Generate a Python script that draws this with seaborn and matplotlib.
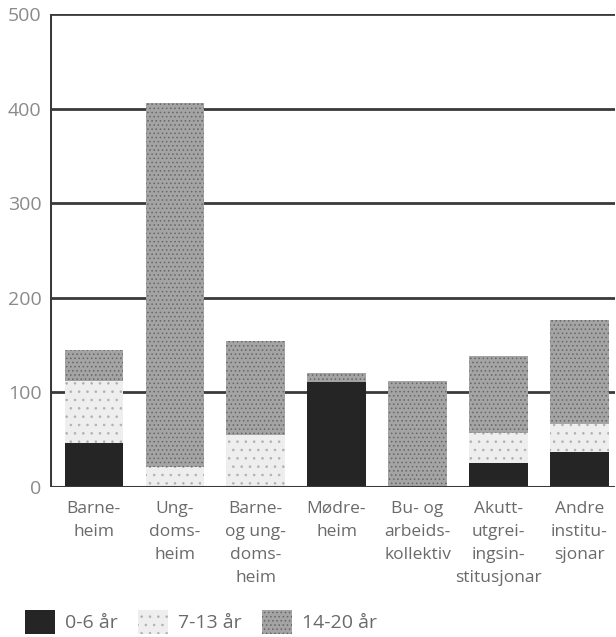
import numpy as np
import pandas as pd
import matplotlib
matplotlib.use("Agg")
import matplotlib.pyplot as plt
from matplotlib.patches import Patch
import seaborn as sns

sns.set_theme(style="white")
plt.rcParams['font.family'] = ['Open Sans', 'DejaVu Sans']
plt.rcParams['hatch.linewidth'] = 0.6

categories = ["Barne-\nheim", "Ung-\ndoms-\nheim", "Barne-\nog ung-\ndoms-\nheim",
              "Mødre-\nheim", "Bu- og\narbeids-\nkollektiv",
              "Akutt-\nutgrei-\ningsin-\nstitusjonar", "Andre\ninstitu-\nsjonar"]
age_0_6 = [46, 0, 0, 111, 0, 25, 37]
age_7_13 = [66, 21, 55, 0, 0, 32, 30]
age_14_20 = [33, 385, 99, 9, 112, 82, 110]
series_labels = ["0-6 år", "7-13 år", "14-20 år"]
yticks = [0, 100, 200, 300, 400, 500]

df = pd.DataFrame({"cat": categories, "a": age_0_6, "b": age_7_13, "c": age_14_20})
df["ab"] = df["a"] + df["b"]
df["abc"] = df["ab"] + df["c"]

fig = plt.figure(figsize=(6.16, 6.37), dpi=100)
ax = fig.add_axes([50 / 616, 150 / 637, 565 / 616, 473 / 637])

styles = [
    ("abc", "#a4a4a4", "#666666", "...."),
    ("ab", "#eeeeee", "#b0b0b0", ".."),
    ("a", "#252525", "#252525", None),
]
for col, fc, ec, hatch in styles:
    sns.barplot(data=df, x="cat", y=col, ax=ax, color=fc, width=0.72,
                saturation=1, edgecolor=ec, linewidth=0, hatch=hatch)

ax.set_ylim(0, 500)
ax.set_xlim(-0.54, 6.44)
ax.set_yticks(yticks)
ax.set_yticklabels([str(t) for t in yticks], fontsize=14, color="#8a8a8a")
ax.set_xticks(range(len(categories)))
ax.set_xticklabels(categories, fontsize=12.5, color="#6a6a6a", linespacing=1.6, va="top")
ax.tick_params(axis="x", length=0, pad=10)
ax.tick_params(axis="y", length=0, pad=6)
ax.set_xlabel("")
ax.set_ylabel("")

ax.set_axisbelow(True)
ax.yaxis.grid(True, color="#3a3a3a", linewidth=2)
ax.xaxis.grid(False)
for side in ["left", "top", "bottom", "right"]:
    ax.spines[side].set_visible(False)
ax.axvline(-0.54, color="#3a3a3a", linewidth=2.2)
ax.axhline(0, color="#3a3a3a", linewidth=2.2)

handles = [
    Patch(facecolor="#252525", edgecolor="#252525", linewidth=0),
    Patch(facecolor="#eeeeee", edgecolor="#b0b0b0", hatch="..", linewidth=0),
    Patch(facecolor="#a4a4a4", edgecolor="#666666", hatch="....", linewidth=0),
]
fig.legend(handles, series_labels, loc="lower left", bbox_to_anchor=(0.012, -0.022),
           ncol=3, frameon=False, fontsize=14, handlelength=1.55, handleheight=1.5,
           columnspacing=1.05, handletextpad=0.5, labelcolor="#6a6a6a")

fig.savefig("out.png", dpi=100)
